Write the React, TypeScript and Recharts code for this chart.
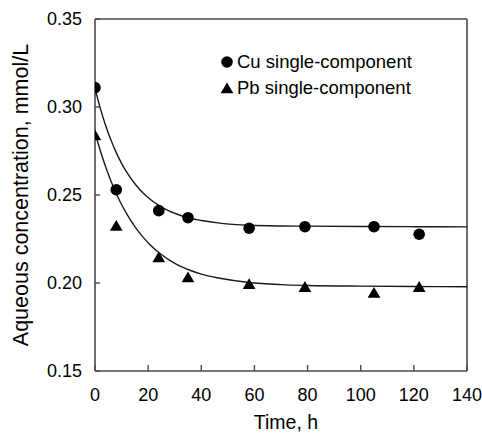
import React from 'react';
import { ComposedChart, Line, Scatter, XAxis, YAxis, ReferenceLine, Legend } from 'recharts';

// Axis ticks
const xTicks = [0, 20, 40, 60, 80, 100, 120, 140];
const yTicks = [0.15, 0.2, 0.25, 0.3, 0.35];

// Measured points
const sampleTimes = [0, 8, 24, 35, 58, 79, 105, 122];
const cuMeasured = [0.311, 0.253, 0.2411, 0.2371, 0.2311, 0.232, 0.232, 0.2277];
const pbMeasured = [0.2841, 0.2326, 0.2147, 0.2034, 0.1995, 0.1979, 0.1946, 0.1979];

// Fitted curves
const fitTimes = [0, 2, 4, 6, 8, 10, 12, 15, 18, 21, 24, 28, 32, 36, 40, 47, 58, 70, 80, 100, 120, 140];
const cuFit = [0.3105, 0.2992, 0.2895, 0.2812, 0.2741, 0.268, 0.2628, 0.2564, 0.2513, 0.2473, 0.2441, 0.2408, 0.2385, 0.2367, 0.2355, 0.234, 0.2328, 0.2324, 0.2323, 0.2321, 0.232, 0.2319];
const pbFit = [0.2855, 0.2751, 0.266, 0.258, 0.2509, 0.2446, 0.2391, 0.232, 0.2262, 0.2213, 0.2173, 0.213, 0.2096, 0.2071, 0.205, 0.2027, 0.2003, 0.1991, 0.1986, 0.1982, 0.198, 0.1979];

const legendLabels = ['Cu single-component', 'Pb single-component'];
const xLabel = 'Time, h';
const yLabel = 'Aqueous concentration, mmol/L';

const cuPoints = sampleTimes.map((t, i) => ({ t, v: cuMeasured[i] }));
const pbPoints = sampleTimes.map((t, i) => ({ t, v: pbMeasured[i] }));
const cuCurve = fitTimes.map((t, i) => ({ t, v: cuFit[i] }));
const pbCurve = fitTimes.map((t, i) => ({ t, v: pbFit[i] }));

const FONT = '"Liberation Sans", Arial, Helvetica, sans-serif';
const AXIS = '#4a4a4a';

const Circle = (props: any) => <circle cx={props.cx} cy={props.cy} r={5.8} fill="#000" />;
const Tri = (props: any) => {
  const { cx, cy } = props;
  return <polygon points={`${cx},${cy - 5.6} ${cx + 6.4},${cy + 5.2} ${cx - 6.4},${cy + 5.2}`} fill="#000" />;
};

const LegendContent = () => (
  <div style={{ fontFamily: FONT, fontSize: 18.5, color: '#000', lineHeight: '26px' }}>
    <div style={{ display: 'flex', alignItems: 'center', height: 26 }}>
      <svg width={14} height={14} style={{ marginRight: 3 }}><circle cx={7} cy={7} r={5.8} fill="#000" /></svg>
      <span>{legendLabels[0]}</span>
    </div>
    <div style={{ display: 'flex', alignItems: 'center', height: 26 }}>
      <svg width={14} height={14} style={{ marginRight: 3 }}><polygon points="7,1.4 13.4,12.2 0.6,12.2" fill="#000" /></svg>
      <span>{legendLabels[1]}</span>
    </div>
  </div>
);

const YLab = () => (
  <text x={27.5} y={195} transform="rotate(-90, 27.5, 195)" textAnchor="middle" fontFamily={FONT} fontSize={21.5} fill="#000">
    {yLabel}
  </text>
);
const XLab = () => (
  <text x={286} y={429} textAnchor="middle" fontFamily={FONT} fontSize={19.5} fill="#000">
    {xLabel}
  </text>
);

export default function App() {
  return (
    <div style={{ position: 'absolute', left: 0, top: 0, width: 482, height: 433, background: '#fff' }}>
      <ComposedChart width={482} height={433} margin={{ top: 19, right: 15, left: 0, bottom: 0 }}>
        <XAxis
          dataKey="t"
          type="number"
          domain={[0, 140]}
          ticks={xTicks}
          height={62}
          axisLine={{ stroke: AXIS, strokeWidth: 1.6 }}
          tickLine={{ stroke: AXIS, strokeWidth: 1.4 }}
          tickSize={-6}
          tickMargin={23}
          tick={{ fill: '#000', fontSize: 18, fontFamily: FONT }}
          interval={0}
          allowDataOverflow
          label={<XLab />}
        />
        <YAxis
          dataKey="v"
          type="number"
          domain={[0.15, 0.35]}
          ticks={yTicks}
          width={95}
          axisLine={{ stroke: AXIS, strokeWidth: 1.6 }}
          tickLine={{ stroke: AXIS, strokeWidth: 1.4 }}
          tickSize={-5}
          tickMargin={18}
          tick={{ fill: '#000', fontSize: 18, fontFamily: FONT }}
          tickFormatter={(v: number) => v.toFixed(2)}
          interval={0}
          allowDataOverflow
          label={<YLab />}
        />
        <ReferenceLine y={0.35} stroke={AXIS} strokeWidth={1.6} />
        <ReferenceLine x={140} stroke={AXIS} strokeWidth={1.6} />
        <Line data={cuCurve} dataKey="v" type="monotone" stroke="#1a1a1a" strokeWidth={1.4} dot={false} activeDot={false} isAnimationActive={false} />
        <Line data={pbCurve} dataKey="v" type="monotone" stroke="#1a1a1a" strokeWidth={1.4} dot={false} activeDot={false} isAnimationActive={false} />
        <Scatter data={cuPoints} dataKey="v" shape={Circle} isAnimationActive={false} />
        <Scatter data={pbPoints} dataKey="v" shape={Tri} isAnimationActive={false} />
        <Legend
          layout="vertical"
          align="center"
          verticalAlign="middle"
          content={<LegendContent />}
          wrapperStyle={{ left: 220, top: 49, width: 250, height: 52 }}
        />
      </ComposedChart>
    </div>
  );
}
